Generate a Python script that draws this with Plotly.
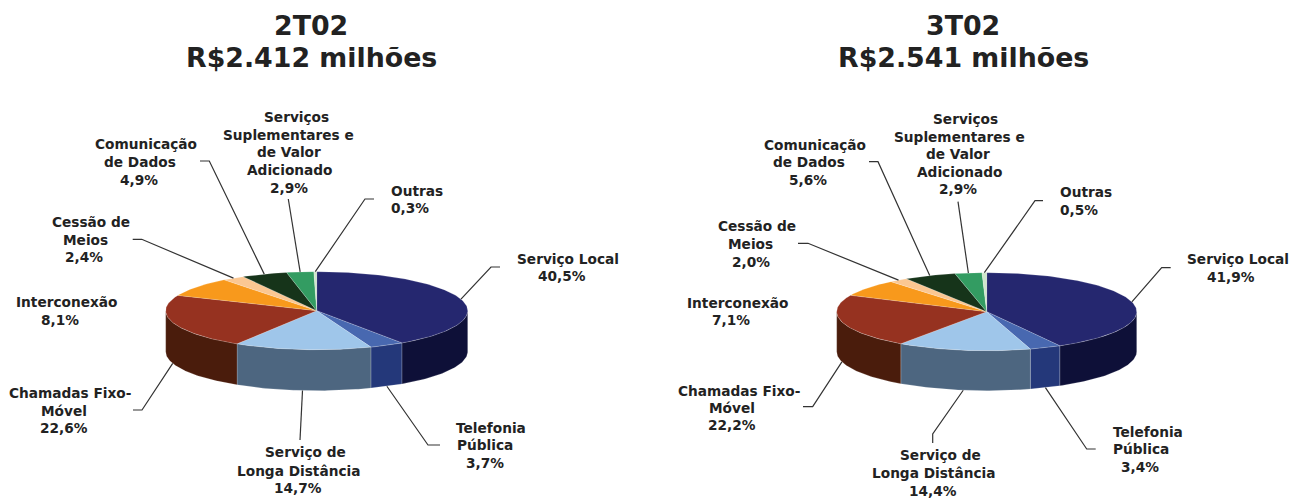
import math
import plotly.graph_objects as go

categories = ["Serviço Local", "Telefonia Pública", "Serviço de Longa Distância", "Chamadas Fixo-Móvel",
              "Interconexão", "Cessão de Meios", "Comunicação de Dados",
              "Serviços Suplementares e de Valor Adicionado", "Outras"]
values_2t02 = [40.5, 3.7, 14.7, 22.6, 8.1, 2.4, 4.9, 2.9, 0.3]
values_3t02 = [41.9, 3.4, 14.4, 22.2, 7.1, 2.0, 5.6, 2.9, 0.5]
titles_2t02 = ["2T02", "R$2.412 milhões"]
titles_3t02 = ["3T02", "R$2.541 milhões"]
top_colors = ["#25276F", "#4868B0", "#9FC6EA", "#963220", "#F8991C", "#FBC792", "#16341A", "#339C62", "#CFE6CC"]
side_colors = ["#0E1038", "#24387A", "#4D6680", "#4A1C0C", "#8F5A12", "#94734F", "#0C1D0E", "#1D5A38", "#7A8A78"]
label_lines = [["Serviço Local"], ["Telefonia", "Pública"], ["Serviço de", "Longa Distância"],
               ["Chamadas Fixo-", "Móvel"], ["Interconexão"], ["Cessão de", "Meios"],
               ["Comunicação", "de Dados"], ["Serviços", "Suplementares e", "de Valor", "Adicionado"], ["Outras"]]

pies = [
    dict(values=values_2t02, titles=titles_2t02, cx=316.7, cy=310.7, rx=151, ry=39, depth=41,
         title_pos=[(311, 25), (311, 57)],
         label_pos=[[(568, 259), (562, 276)],
                    [(491, 428), (485, 445), (485, 463)],
                    [(305, 452), (298, 471), (298, 488)],
                    [(70, 393), (64, 411), (64, 428)],
                    [(66, 302), (60, 320)],
                    [(91, 222), (85, 240), (84, 257)],
                    [(146, 144), (139.5, 162), (139, 180)],
                    [(296, 117), (288.5, 135), (289, 152), (289, 170), (288.6, 188)],
                    [(417, 191), (409.5, 208)]],
         leaders=[[(491, 267), (500, 267)], [(428, 445), (440, 445)], [(300, 440)], [(142, 410), (133, 410)], [],
                  [(141.7, 239.3), (132.7, 239.3)], [(209.3, 161), (200, 161)], [(288.3, 199)], [(365, 199), (374, 199)]]),
    dict(values=values_3t02, titles=titles_3t02, cx=986.7, cy=311.7, rx=150, ry=39, depth=40,
         title_pos=[(963, 25), (963, 57)],
         label_pos=[[(1238, 259), (1231, 277)],
                    [(1147.5, 432), (1140.5, 449), (1140, 467)],
                    [(940, 455), (933, 473), (933, 491)],
                    [(739, 391), (732, 408), (732, 425)],
                    [(737, 303), (731, 320)],
                    [(757, 226), (750.5, 244), (750.5, 262)],
                    [(815, 145), (808.5, 162), (808, 180)],
                    [(965, 119), (959, 137), (958, 154), (959, 172), (958, 189)],
                    [(1086, 192), (1079, 210)]],
         leaders=[[(1161.7, 267.7), (1170.7, 267.7)], [(1086.7, 449), (1095.7, 449)], [(932.7, 434), (932.7, 443)],
                  [(812.7, 406.7), (803, 406.7)], [], [(808, 243.3), (798, 243.3)], [(878, 161.7), (869, 161.7)],
                  [(958, 201.7)], [(1035, 200.7), (1043, 200.7)]]),
]

FONT = "DejaVu Sans, Verdana, sans-serif"
TEXT = "#222222"
LABEL_SIZE = 13.7
TITLE_SIZE = 26.8
fig = go.Figure()


def rim(p, deg, drop=0.0):
    t = math.radians(deg)
    return p["cx"] + p["rx"] * math.sin(t), p["cy"] - p["ry"] * math.cos(t) + drop


def arc(p, a0, a1, drop=0.0):
    n = max(2, int(abs(a1 - a0)) + 2)
    return [rim(p, a0 + (a1 - a0) * i / (n - 1), drop) for i in range(n)]


def poly(pts, fill, line="rgba(255,255,255,0.25)", width=0.7):
    xs = [q[0] for q in pts]
    ys = [q[1] for q in pts]
    fig.add_trace(go.Scatter(x=xs + xs[:1], y=ys + ys[:1], mode="lines", fill="toself", fillcolor=fill,
                             line=dict(color=line, width=width), hoverinfo="skip", showlegend=False))


def text_at(x, y, s, size):
    fig.add_annotation(x=x, y=y, xref="x", yref="y", text=f"<b>{s}</b>", showarrow=False, xanchor="center",
                       yanchor="middle", align="center", font=dict(family=FONT, size=size, color=TEXT))


for p in pies:
    total = sum(p["values"])
    edges = [0.0]
    for v in p["values"]:
        edges.append(edges[-1] + v / total * 360)
    for i in range(len(p["values"])):
        a0, a1 = max(edges[i], 90), min(edges[i + 1], 270)
        if a1 > a0:
            poly(arc(p, a0, a1) + arc(p, a1, a0, p["depth"]), side_colors[i])
    for i in range(len(p["values"])):
        poly([(p["cx"], p["cy"])] + arc(p, edges[i], edges[i + 1]), top_colors[i])
    for i, lines in enumerate(label_lines):
        mid = (edges[i] + edges[i + 1]) / 2
        if p["leaders"][i]:
            start = rim(p, mid, p["depth"] if 100 < mid < 260 else 0)
            pts = [start] + p["leaders"][i]
            fig.add_trace(go.Scatter(x=[q[0] for q in pts], y=[q[1] for q in pts], mode="lines",
                                     line=dict(color="#333333", width=1.2), hoverinfo="skip", showlegend=False))
        value = f"{p['values'][i]:.1f}".replace(".", ",") + "%"
        for (lx, ly), s in zip(p["label_pos"][i], lines + [value]):
            text_at(lx, ly, s, LABEL_SIZE)
    for (tx, ty), s in zip(p["title_pos"], p["titles"]):
        text_at(tx, ty, s, TITLE_SIZE)

axis = dict(visible=False, showgrid=False, zeroline=False, fixedrange=True)
fig.update_layout(width=1290, height=498, margin=dict(l=0, r=0, t=0, b=0), plot_bgcolor="white", paper_bgcolor="white",
                  xaxis=dict(range=[0, 1290], **axis), yaxis=dict(range=[498, 0], **axis), showlegend=False)
fig.write_html("out.html", config=dict(displayModeBar=False),
               post_script="document.body.style.margin='0';document.body.style.overflow='hidden';")
